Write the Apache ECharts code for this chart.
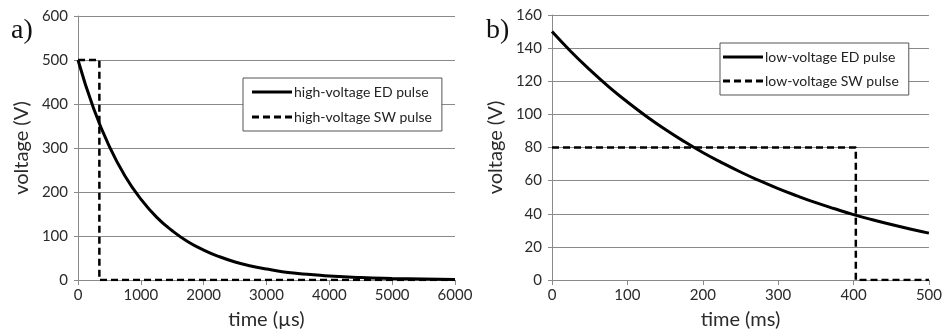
<!DOCTYPE html>
<html>
<head>
<meta charset="utf-8">
<script src="https://cdn.jsdelivr.net/npm/echarts@6/dist/echarts.min.js"></script>
<style>
  html, body { margin: 0; padding: 0; background: #fff; }
  #chart { width: 945px; height: 335px; }
</style>
</head>
<body>
<div id="chart"></div>
<script>
// panel a) high voltage, time in µs
const hvTime = [0, 250, 500, 750, 1000, 1250, 1500, 1750, 2000, 2250, 2500, 2750, 3000, 3250, 3500, 3750, 4000, 4500, 5000, 5500, 6000]
const hvED = [500, 389, 303, 236, 184, 143, 112, 87, 68, 53, 41, 32, 25, 19, 15, 12, 9, 5.5, 3.4, 2, 1.2]
const hvSWTime = [0, 340, 340, 6000]
const hvSW = [500, 500, 0, 0]

// panel b) low voltage, time in ms
const lvTime = [0, 25, 50, 75, 100, 125, 150, 175, 200, 225, 250, 275, 300, 325, 350, 375, 400, 425, 450, 475, 500]
const lvED = [150, 138, 127, 116.8, 107.5, 98.9, 91, 83.7, 77, 70.9, 65.2, 60, 55.2, 50.8, 46.7, 43, 39.5, 36.4, 33.5, 30.8, 28.3]
const lvSWTime = [0, 403, 403, 500]
const lvSW = [80, 80, 0, 0]

const seriesNames = ['high-voltage ED pulse', 'high-voltage SW pulse', 'low-voltage ED pulse', 'low-voltage SW pulse']

const pairs = (xs, ys) => xs.map((x, i) => [x, ys[i]])

const chart = echarts.init(document.getElementById('chart'))

const font = 'Lato, "Open Sans", sans-serif'
const gridColor = '#8a8a8a'
const textColor = '#2a2a2a'

// legend keys drawn as plain line / dashed line (no symbol)
const solidIcon = 'path://M0,0H40V3H0Z'
const dashIcon = 'path://M0,0H7V3H0Z M11,0H18V3H11Z M22,0H29V3H22Z M33,0H40V3H33Z'

const xAxisBase = (max, interval, name) => ({
  type: 'value',
  min: 0,
  max,
  interval,
  name,
  nameLocation: 'middle',
  nameGap: 30,
  nameTextStyle: { fontFamily: font, fontSize: 20, color: textColor },
  axisLine: { show: true, lineStyle: { color: gridColor } },
  axisTick: { show: true, length: 5, lineStyle: { color: gridColor } },
  axisLabel: { fontFamily: font, fontSize: 15, color: textColor, margin: 8, formatter: v => String(v) },
  splitLine: { show: false },
})

const yAxisBase = (max, interval) => ({
  type: 'value',
  min: 0,
  max,
  interval,
  name: 'voltage (V)',
  nameLocation: 'middle',
  nameRotate: 90,
  nameGap: 46,
  nameTextStyle: { fontFamily: font, fontSize: 20, color: textColor },
  axisLine: { show: true, lineStyle: { color: gridColor } },
  axisTick: { show: true, length: 4, lineStyle: { color: gridColor } },
  axisLabel: { fontFamily: font, fontSize: 15, color: textColor, margin: 10, formatter: v => String(v) },
  splitLine: { show: true, lineStyle: { color: gridColor, width: 1 } },
})

const legendBase = {
  orient: 'vertical',
  backgroundColor: '#fff',
  borderColor: '#555',
  borderWidth: 1,
  itemWidth: 40,
  itemHeight: 3,
  itemGap: 11,
  itemStyle: { color: '#000', borderWidth: 0 },
  textStyle: { fontFamily: font, fontSize: 14, color: '#222', padding: [0, 0, 0, -3] },
}

const legendData = (a, b) => [
  { name: a, icon: solidIcon },
  { name: b, icon: dashIcon },
]

const lineSeries = (name, data, dashed, gi) => ({
  name,
  type: 'line',
  xAxisIndex: gi,
  yAxisIndex: gi,
  data,
  smooth: !dashed,
  showSymbol: false,
  symbol: 'none',
  animation: false,
  lineStyle: { color: '#000', width: dashed ? 2.5 : 3, type: dashed ? [7, 4] : 'solid' },
  itemStyle: { color: '#000' },
  z: dashed ? 3 : 4,
})

chart.setOption({
  backgroundColor: '#fff',
  animation: false,
  grid: [
    { left: 78, right: 490, top: 16, bottom: 55 },
    { left: 552, right: 14, top: 15, bottom: 54 },
  ],
  xAxis: [
    { ...xAxisBase(6000, 1000, 'time (µs)'), gridIndex: 0 },
    { ...xAxisBase(500, 100, 'time (ms)'), gridIndex: 1 },
  ],
  yAxis: [
    { ...yAxisBase(600, 100), gridIndex: 0 },
    { ...yAxisBase(160, 20), gridIndex: 1 },
  ],
  legend: [
    { ...legendBase, data: legendData(seriesNames[0], seriesNames[1]), left: 243, top: 78, padding: [7, 10, 7, 9] },
    { ...legendBase, data: legendData(seriesNames[2], seriesNames[3]), left: 720, top: 43, itemGap: 10, padding: [7, 10, 7, 3] },
  ],
  graphic: [
    { type: 'text', left: 11, top: 17, style: { text: 'a)', font: '28px "Liberation Serif", serif', fill: '#111' } },
    { type: 'text', left: 486, top: 17, style: { text: 'b)', font: '28px "Liberation Serif", serif', fill: '#111' } },
  ],
  series: [
    lineSeries(seriesNames[0], pairs(hvTime, hvED), false, 0),
    lineSeries(seriesNames[1], pairs(hvSWTime, hvSW), true, 0),
    lineSeries(seriesNames[2], pairs(lvTime, lvED), false, 1),
    lineSeries(seriesNames[3], pairs(lvSWTime, lvSW), true, 1),
  ],
})
</script>
</body>
</html>
